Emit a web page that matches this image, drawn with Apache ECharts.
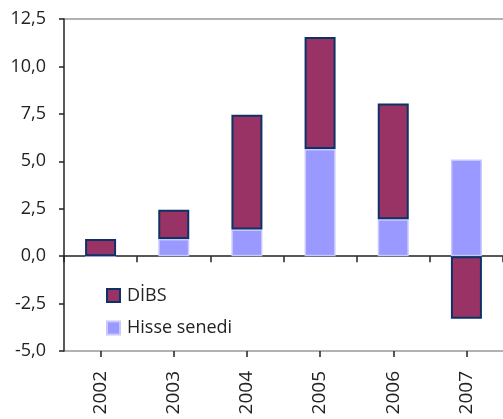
<!DOCTYPE html>
<html>
<head>
<meta charset="utf-8">
<script src="https://cdn.jsdelivr.net/npm/echarts@6/dist/echarts.min.js"></script>
<style>
  html, body { margin: 0; padding: 0; background: #fff; }
  #chart { width: 503px; height: 419px; }
</style>
</head>
<body>
<div id="chart"></div>
<script>
const years = ['2002', '2003', '2004', '2005', '2006', '2007']
const hisseSenedi = [0, 0.9, 1.4, 5.65, 1.95, 5.1]
const dibs = [0.9, 1.55, 6.05, 5.9, 6.1, -3.3]

const fontFamily = 'Open Sans, DejaVu Sans, sans-serif'
const fmt = v => v.toFixed(1).replace('.', ',')
// only the top (12,5) and bottom (-5,0) grid lines are drawn
const borderLines = ['#999', 'transparent', 'transparent', 'transparent', 'transparent', 'transparent', 'transparent', '#999']

const chart = echarts.init(document.getElementById('chart'))

chart.setOption({
  animation: false,
  grid: { left: 64, right: -4, top: 19, bottom: 68 },
  legend: {
    data: ['DİBS', 'Hisse senedi'],
    orient: 'vertical',
    left: 101,
    top: 281.5,
    icon: 'rect',
    itemWidth: 13,
    itemHeight: 13,
    itemGap: 14.5,
    textStyle: { fontFamily, fontSize: 18, color: '#222', lineHeight: 18, padding: [0, 0, 0, 2] },
  },
  xAxis: [
    {
      // labels at the bottom of the plot
      type: 'category',
      data: years,
      position: 'bottom',
      axisLine: { show: false, onZero: false },
      axisTick: { show: false },
      axisLabel: { rotate: 90, margin: 20, fontFamily, fontSize: 19, color: '#222' },
    },
    {
      // zero line, ticks on category boundaries
      type: 'category',
      data: years,
      position: 'bottom',
      axisLine: { onZero: true, lineStyle: { color: '#222', width: 1.5 } },
      axisTick: { show: true, length: 6, lineStyle: { color: '#222', width: 1.5 } },
      axisLabel: { show: false },
    },
    {
      // extra ticks at category centres
      type: 'category',
      data: years,
      position: 'bottom',
      axisLine: { show: false, onZero: true },
      axisTick: { show: true, alignWithLabel: true, length: 6, lineStyle: { color: '#222', width: 1.5 } },
      axisLabel: { show: false },
    },
  ],
  yAxis: {
    type: 'value',
    min: -5,
    max: 12.5,
    interval: 2.5,
    axisLine: { show: true, lineStyle: { color: '#222', width: 1.5 } },
    axisTick: { show: true, length: 5, lineStyle: { color: '#222', width: 1.5 } },
    axisLabel: { formatter: fmt, margin: 18, fontFamily, fontSize: 18, color: '#222' },
    splitLine: { show: true, lineStyle: { color: borderLines, width: 1.5 } },
  },
  series: [
    {
      name: 'Hisse senedi',
      type: 'bar',
      stack: 'total',
      data: hisseSenedi,
      barWidth: 31,
      itemStyle: { color: '#9999ff', borderColor: '#c8c8ff', borderWidth: 1.5 },
    },
    {
      name: 'DİBS',
      type: 'bar',
      stack: 'total',
      data: dibs,
      barWidth: 31,
      itemStyle: { color: '#993366', borderColor: '#0d3366', borderWidth: 2 },
    },
  ],
})
</script>
</body>
</html>
